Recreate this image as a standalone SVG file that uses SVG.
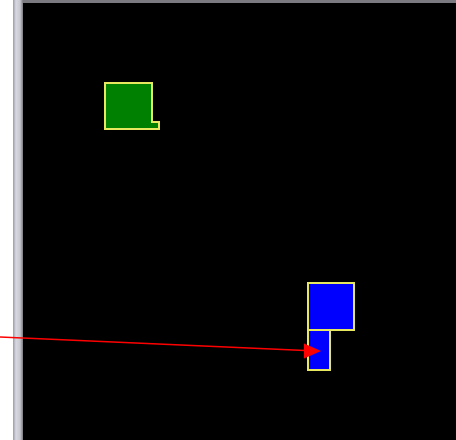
<svg xmlns="http://www.w3.org/2000/svg" width="456" height="440" viewBox="0 0 456 440">
<style>
.node{stroke:#e8e860;stroke-width:2}
.green{fill:#008000}
.blue{fill:#0000ff}
.conn{stroke:#ff0000;stroke-width:1.5;fill:none}
</style>
<defs>
<linearGradient id="bar" x1="0" x2="1" y1="0" y2="0">
<stop offset="0" stop-color="#9a9aaa"/>
<stop offset="0.3" stop-color="#d8d8e2"/>
<stop offset="0.7" stop-color="#c8c8d0"/>
<stop offset="1" stop-color="#7a7a80"/>
</linearGradient>
</defs>
<rect x="0" y="0" width="456" height="440" fill="#ffffff"/>
<rect x="23" y="0" width="433" height="440" fill="#000000"/>
<rect x="23" y="0" width="433" height="3" fill="#7a7a80"/>
<rect x="13" y="0" width="10" height="440" fill="url(#bar)"/>
<g id="node-green">
<polygon class="node green" points="105,83 152,83 152,122 159,122 159,129 105,129"/>
</g>
<g id="node-blue-large">
<rect class="node blue" x="308" y="283" width="46" height="47"/>
</g>
<g id="node-blue-small">
<rect class="node blue" x="308" y="330" width="22" height="40"/>
</g>
<g id="connectors">
<line class="conn" x1="0" y1="337" x2="305" y2="350.5"/>
<path d="M304,343.5 L321,351 L304,358.5 z" fill="#ff0000"/>
</g>
</svg>
